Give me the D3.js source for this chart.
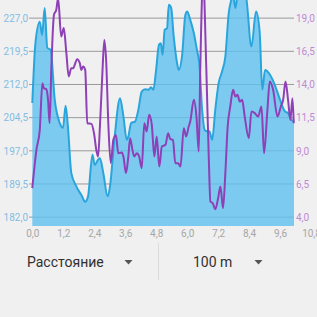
<!DOCTYPE html>
<html>
<head>
<meta charset="utf-8">
<script src="https://cdn.jsdelivr.net/npm/d3@7"></script>
<style>
  html, body { margin: 0; padding: 0; background: #f0f0f0; }
  svg { display: block; font-family: Roboto, "Noto Sans", sans-serif; }
</style>
</head>
<body>
<svg id="chart" width="317" height="317"></svg>
<script>
// elevation profile (left axis), distance in km
var elevDist = [0.0, 0.12, 0.29, 0.38, 0.48, 0.58, 0.71, 0.87, 1.06, 1.19, 1.29, 1.38, 1.51, 1.71, 1.90, 2.05, 2.16, 2.33, 2.42, 2.55,
  2.62, 2.75, 2.92, 3.01, 3.18, 3.40, 3.53, 3.66, 3.72, 3.83, 3.98, 4.11, 4.24, 4.37, 4.50, 4.60, 4.69, 4.79, 4.91, 4.98,
  5.05, 5.13, 5.22, 5.29, 5.38, 5.48, 5.61, 5.67, 5.80, 5.93, 6.00, 6.12, 6.26, 6.38, 6.47, 6.58, 6.68, 6.77, 6.86, 6.97,
  7.09, 7.22, 7.35, 7.48, 7.61, 7.71, 7.78, 7.87, 7.97, 8.13, 8.29, 8.49, 8.67, 8.81, 8.91, 9.02, 9.21, 9.41, 9.60, 9.79,
  9.91, 10.04, 10.14];
var elevVals = [207.8, 221.3, 226.2, 223.2, 229.3, 220.3, 219.8, 208.5, 203.3, 202.2, 207.2, 202.5, 192.0, 188.9, 187.0, 185.5, 186.7, 196.1, 193.8, 195.0,
  195.3, 192.0, 186.7, 188.9, 199.5, 208.9, 204.8, 199.5, 200.2, 203.3, 203.6, 206.3, 210.4, 210.9, 210.8, 211.4, 210.8, 214.9, 221.0, 221.3,
  218.7, 224.4, 224.7, 230.0, 229.3, 222.8, 216.8, 215.3, 218.3, 227.7, 228.5, 226.6, 223.6, 219.8, 216.8, 206.3, 201.7, 201.4, 201.4, 199.5,
  206.3, 212.3, 214.9, 218.3, 228.1, 231.1, 232.3, 229.3, 233.0, 234.0, 231.6, 220.6, 228.5, 223.9, 210.8, 215.3, 214.2, 211.7, 208.5, 205.9,
  205.5, 204.0, 203.6];

// speed (right axis)
var speedDist = [0.0, 0.16, 0.29, 0.39, 0.45, 0.54, 0.61, 0.67, 0.74, 0.84, 0.93, 1.00, 1.12, 1.22, 1.32, 1.41, 1.51, 1.58, 1.74, 1.84,
  1.90, 1.97, 2.05, 2.13, 2.29, 2.39, 2.48, 2.55, 2.62, 2.71, 2.79, 2.86, 2.95, 3.04, 3.14, 3.24, 3.33, 3.47, 3.53, 3.63,
  3.72, 3.79, 3.88, 3.95, 4.05, 4.14, 4.24, 4.34, 4.43, 4.53, 4.63, 4.73, 4.82, 4.92, 5.02, 5.16, 5.26, 5.35, 5.45, 5.54,
  5.65, 5.74, 5.87, 5.96, 6.06, 6.12, 6.26, 6.36, 6.45, 6.51, 6.62, 6.74, 6.84, 6.90, 6.99, 7.09, 7.20, 7.29, 7.39, 7.48,
  7.57, 7.67, 7.78, 7.87, 7.95, 8.04, 8.13, 8.23, 8.39, 8.49, 8.62, 8.75, 8.88, 8.98, 9.11, 9.20, 9.33, 9.50, 9.63, 9.72,
  9.81, 9.91, 10.00, 10.08, 10.13];
var speedVals = [6.19, 9.07, 10.58, 14.10, 13.72, 13.65, 12.84, 11.08, 15.35, 19.25, 19.63, 20.5, 17.61, 18.25, 16.36, 14.60, 15.23, 15.23, 15.91, 15.61,
  15.10, 15.35, 15.10, 11.08, 11.03, 10.33, 9.07, 8.57, 10.83, 14.60, 17.36, 15.86, 10.83, 8.07, 9.83, 10.20, 8.82, 8.87, 8.57, 7.32,
  8.57, 9.95, 9.07, 8.57, 8.82, 8.57, 7.69, 11.08, 10.45, 11.71, 10.96, 8.57, 10.08, 7.81, 9.32, 9.45, 10.33, 9.88, 9.83, 8.07,
  8.07, 7.81, 10.71, 10.08, 10.83, 11.21, 12.84, 11.58, 8.94, 15.35, 22.0, 15.35, 8.32, 5.18, 5.05, 4.60, 5.43, 6.31, 4.68, 7.32,
  10.83, 12.34, 13.60, 13.09, 13.22, 12.71, 12.84, 11.58, 9.95, 11.96, 11.84, 11.58, 12.34, 8.82, 12.09, 14.22, 13.60, 11.58, 12.34, 12.84,
  14.22, 12.84, 11.33, 12.97, 11.08];

var xTicks = [0, 1.2, 2.4, 3.6, 4.8, 6.0, 7.2, 8.4, 9.6, 10.8];
var leftTicks = [182, 189.5, 197, 204.5, 212, 219.5, 227];
var rightTicks = [4, 6.5, 9, 11.5, 14, 16.5, 19];
var controlLabels = ["Расстояние", "100 m"];

var svg = d3.select("#chart");
var comma = function (d) { return d3.format(".1f")(d).replace(".", ","); };

var x = d3.scaleLinear().domain([0, 10.14]).range([32.3, 294]);
var yL = d3.scaleLinear().domain([180, 231.1]).range([226, 0]);
var yR = d3.scaleLinear().domain([3.333, 20.367]).range([226, 0]);

// grid
svg.append("g").selectAll("line")
  .data(leftTicks)
  .enter().append("line")
    .attr("x1", 29).attr("x2", 294)
    .attr("y1", function (d) { return yL(d); })
    .attr("y2", function (d) { return yL(d); })
    .style("stroke", "#9a9a9a")
    .style("stroke-width", 1);

// elevation area
var pts = elevDist.map(function (d, i) { return [d, elevVals[i]]; });
svg.append("path")
  .datum(pts)
  .attr("d", d3.area()
    .x(function (d) { return x(d[0]); })
    .y0(yL(180))
    .y1(function (d) { return yL(d[1]); })
    .curve(d3.curveMonotoneX))
  .style("fill", "#60c0f0")
  .style("fill-opacity", 0.8);

svg.append("path")
  .datum(pts)
  .attr("d", d3.line()
    .x(function (d) { return x(d[0]); })
    .y(function (d) { return yL(d[1]); })
    .curve(d3.curveMonotoneX))
  .style("fill", "none")
  .style("stroke", "#2aa5dc")
  .style("stroke-width", 2);

// speed line
var spts = speedDist.map(function (d, i) { return [d, speedVals[i]]; });
svg.append("path")
  .datum(spts)
  .attr("d", d3.line()
    .x(function (d) { return x(d[0]); })
    .y(function (d) { return yR(d[1]); })
    .curve(d3.curveMonotoneX))
  .style("fill", "none")
  .style("stroke", "#8e40b6")
  .style("stroke-width", 2);

// axes
var axL = svg.append("g").attr("transform", "translate(28,0)")
  .call(d3.axisLeft(yL).tickValues(leftTicks).tickSize(0).tickPadding(0).tickFormat(comma));
axL.select(".domain").remove();
axL.selectAll("text").style("fill", "#84bde3").style("font-size", "10px").style("font-family", "Roboto");

var axR = svg.append("g").attr("transform", "translate(296,0)")
  .call(d3.axisRight(yR).tickValues(rightTicks).tickSize(0).tickPadding(0).tickFormat(comma));
axR.select(".domain").remove();
axR.selectAll("text").style("fill", "#bf8ad4").style("font-size", "10px").style("font-family", "Roboto");

var axX = svg.append("g").attr("transform", "translate(0,230)")
  .call(d3.axisBottom(x).tickValues(xTicks).tickSize(0).tickPadding(0).tickFormat(comma));
axX.select(".domain").remove();
axX.selectAll("text").style("fill", "#a6a6a6").style("font-size", "10px").style("font-family", "Roboto");

// bottom controls
svg.append("line")
  .attr("x1", 158.5).attr("x2", 158.5).attr("y1", 243).attr("y2", 280)
  .style("stroke", "#dcdcdc").style("stroke-width", 1);

var ctrlX = [27, 193];
var triX = [128.5, 258.5];
controlLabels.forEach(function (t, i) {
  svg.append("text")
    .attr("x", ctrlX[i]).attr("y", 267)
    .style("font-size", "14px")
    .style("fill", "#303030")
    .text(t);
  svg.append("path")
    .attr("d", "M" + (triX[i] - 4) + ",260 L" + (triX[i] + 4) + ",260 L" + triX[i] + ",264.5 Z")
    .style("fill", "#555");
});
</script>
</body>
</html>
